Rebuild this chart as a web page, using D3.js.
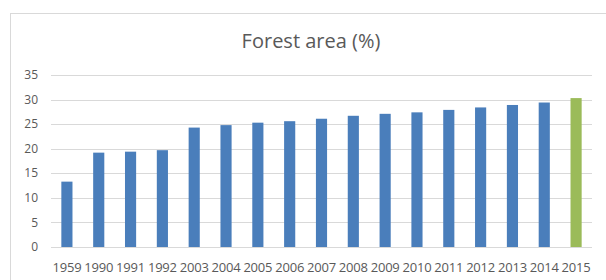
<!DOCTYPE html>
<html>
<head>
<meta charset="utf-8">
<script src="https://cdn.jsdelivr.net/npm/d3@7"></script>
<style>
  body { margin: 0; background: #fff; }
  text { font-family: "Open Sans", "Liberation Sans", sans-serif; fill: #595959; }
</style>
</head>
<body>
<div id="chart"></div>
<script>
// data
var years = ["1959", "1990", "1991", "1992", "2003", "2004", "2005", "2006", "2007",
             "2008", "2009", "2010", "2011", "2012", "2013", "2014", "2015"];
var forestArea = [13.3, 19.2, 19.4, 19.7, 24.3, 24.8, 25.3, 25.6, 26.1,
                  26.7, 27.1, 27.4, 27.9, 28.4, 28.9, 29.4, 30.3];
var yTicks = [0, 5, 10, 15, 20, 25, 30, 35];
var highlightYear = "2015";

var width = 606, height = 280;
var svg = d3.select("#chart").append("svg")
    .attr("width", width)
    .attr("height", height);

// chart frame
svg.append("rect")
    .attr("x", 10.5)
    .attr("y", 13.5)
    .attr("width", 620)
    .attr("height", 300)
    .style("fill", "#fff")
    .style("stroke", "#d9d9d9");

var x = d3.scaleBand()
    .domain(years)
    .range([51, 592])
    .paddingInner(0.65)
    .paddingOuter(0.325);

var y = d3.scaleLinear()
    .domain([0, 35])
    .range([247, 75]);

// gridlines
svg.append("g").selectAll("line")
    .data(yTicks)
    .enter().append("line")
    .attr("x1", 51)
    .attr("x2", 592)
    .attr("y1", function(d) { return Math.round(y(d)) + 0.5; })
    .attr("y2", function(d) { return Math.round(y(d)) + 0.5; })
    .style("stroke", "#d9d9d9");

// y labels
svg.append("g").selectAll("text")
    .data(yTicks)
    .enter().append("text")
    .attr("x", 38)
    .attr("y", function(d) { return y(d); })
    .attr("dy", "0.35em")
    .attr("text-anchor", "end")
    .style("font-size", "12px")
    .text(function(d) { return d; });

// bars
svg.append("g").selectAll("rect")
    .data(forestArea)
    .enter().append("rect")
    .attr("x", function(d, i) { return x(years[i]); })
    .attr("width", x.bandwidth())
    .attr("y", function(d) { return y(d); })
    .attr("height", function(d) { return y(0) - y(d); })
    .style("fill", function(d, i) { return years[i] === highlightYear ? "#9bbb59" : "#4a7ebb"; });

// x labels
svg.append("g").selectAll("text")
    .data(years)
    .enter().append("text")
    .attr("x", function(d) { return x(d) + x.bandwidth() / 2; })
    .attr("y", 272)
    .attr("text-anchor", "middle")
    .style("font-size", "13px")
    .style("letter-spacing", "-0.2px")
    .text(function(d) { return d; });

// title
svg.append("text")
    .attr("x", 311)
    .attr("y", 48)
    .attr("text-anchor", "middle")
    .style("font-size", "20px")
    .text("Forest area (%)");
</script>
</body>
</html>
